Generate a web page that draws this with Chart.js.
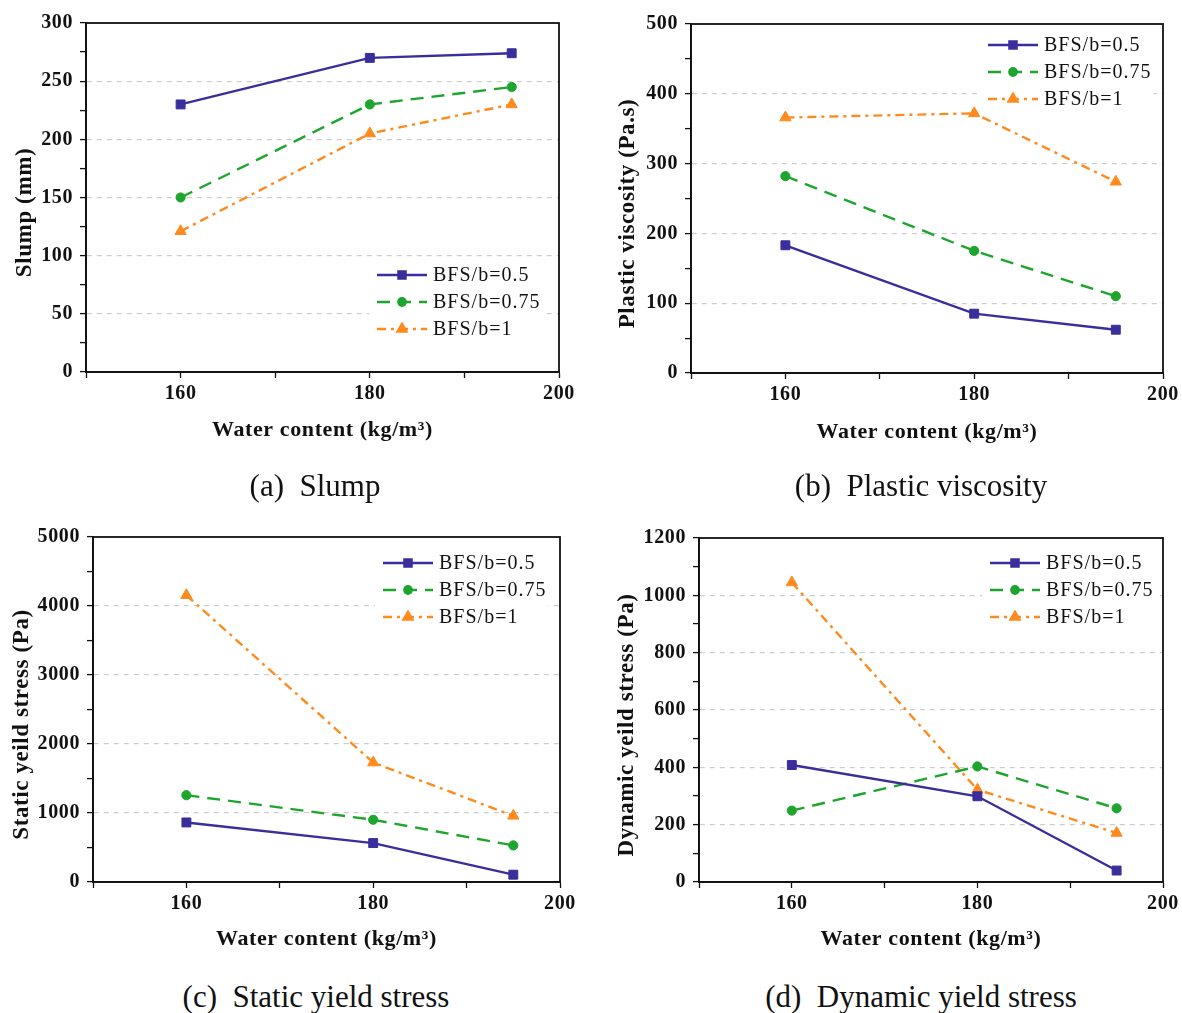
<!DOCTYPE html>
<html>
<head>
<meta charset="utf-8">
<script src="https://cdn.jsdelivr.net/npm/chart.js@4.4.1/dist/chart.umd.min.js"></script>
<style>
body { margin: 0; background: #fff; width: 1182px; height: 1013px; position: relative; overflow: hidden; }
canvas { position: absolute; }
.legenda-fig { position: absolute; font-family: 'Liberation Serif', 'Times New Roman', serif; font-size: 31px; color: #111; transform: translate(-50%, -50%); white-space: pre; }
</style>
</head>
<body>
<canvas id="grafico-slump" width="590" height="444" style="left:0;top:0"></canvas>
<canvas id="grafico-viscosidade" width="592" height="446" style="left:590px;top:0"></canvas>
<canvas id="grafico-estatica" width="590" height="453" style="left:0;top:500px"></canvas>
<canvas id="grafico-dinamica" width="592" height="453" style="left:590px;top:500px"></canvas>

<div class="legenda-fig" style="left:315px;top:486px">(a)  Slump</div>
<div class="legenda-fig" style="left:921px;top:486px">(b)  Plastic viscosity</div>
<div class="legenda-fig" style="left:316px;top:997px">(c)  Static yield stress</div>
<div class="legenda-fig" style="left:921px;top:997px">(d)  Dynamic yield stress</div>

<script>
// teor de agua (kg/m3)
const water = [160, 180, 195];
const seriesNames = ['BFS/b=0.5', 'BFS/b=0.75', 'BFS/b=1'];
const xTicks = [160, 180, 200];

const slump05 = [230, 270, 274];
const slump075 = [150, 230, 245];
const slump1 = [121, 205, 230];

const visc05 = [183, 85, 62];
const visc075 = [282, 175, 110];
const visc1 = [366, 372, 274];

const static05 = [863, 564, 106];
const static075 = [1258, 902, 530];
const static1 = [4156, 1731, 959];

const dyn05 = [408, 299, 40];
const dyn075 = [249, 403, 257];
const dyn1 = [1045, 322, 171];

const estilos = [
    { borderColor: '#3a2d9c', borderDash: [], pointStyle: 'rect', pointRadius: 6.3 },
    { borderColor: '#1ea52e', borderDash: [13, 8], pointStyle: 'circle', pointRadius: 4.6 },
    { borderColor: '#ff8a1d', borderDash: [9, 5, 3, 5], pointStyle: 'triangle', pointRadius: 6.5 },
];

const fonte = "'Liberation Serif', 'Times New Roman', serif";

// moldura completa em volta da area do grafico + espacamento do texto
const moldura = {
    id: 'moldura',
    beforeDraw(chart) {
        chart.ctx.letterSpacing = '0.6px';
    },
    beforeDatasetsDraw(chart) {
        const { ctx, chartArea: a } = chart;
        ctx.save();
        ctx.strokeStyle = '#111';
        ctx.lineWidth = 1.8;
        ctx.strokeRect(a.left, a.top, a.right - a.left, a.bottom - a.top);
        ctx.restore();
    }
}

// titulo do eixo y, um pouco abaixo do centro
const tituloY = {
    id: 'tituloY',
    afterDraw(chart, args, opts) {
        const { ctx, chartArea: a } = chart;
        ctx.save();
        ctx.font = 'bold 23px ' + fonte;
        ctx.letterSpacing = '0.6px';
        ctx.fillStyle = '#111';
        ctx.textAlign = 'center';
        ctx.textBaseline = 'middle';
        ctx.translate(opts.x, (a.top + a.bottom) / 2 + opts.shift);
        ctx.rotate(-Math.PI / 2);
        ctx.fillText(opts.text, 0, 0);
        ctx.restore();
    }
}

// legenda desenhada dentro da area do grafico, com fundo branco
const legendaInterna = {
    id: 'legendaInterna',
    afterDraw(chart, args, opts) {
        const { ctx, chartArea: a } = chart;
        const x0 = a.left + opts.dx;
        const y0 = a.top + opts.dy;
        const passo = 27;
        const sets = chart.data.datasets;
        ctx.save();
        ctx.font = '20px ' + fonte;
        ctx.letterSpacing = '1px';
        let larg = 0;
        sets.forEach(d => larg = Math.max(larg, ctx.measureText(d.label).width));
        ctx.fillStyle = '#fff';
        ctx.fillRect(x0 - 8, y0 - 14, 56 + larg + 10, passo * (sets.length - 1) + 28);
        sets.forEach((d, i) => {
            const y = y0 + i * passo;
            ctx.strokeStyle = d.borderColor;
            ctx.fillStyle = d.borderColor;
            ctx.lineWidth = d.borderWidth;
            ctx.setLineDash(d.borderDash);
            ctx.beginPath();
            ctx.moveTo(x0, y);
            ctx.lineTo(x0 + 50, y);
            ctx.stroke();
            ctx.setLineDash([]);
            Chart.helpers.drawPoint(ctx, {
                pointStyle: d.pointStyle, radius: d.pointRadius * 0.8, rotation: 0, borderWidth: 1
            }, x0 + 25, y);
            ctx.fillStyle = '#111';
            ctx.textBaseline = 'middle';
            ctx.textAlign = 'left';
            ctx.fillText(d.label, x0 + 56, y + 1);
        });
        ctx.restore();
    }
}

function criarGrafico(id, series, yMax, yStep, yTitle, geo) {
    const datasets = series.map((vals, i) => ({
        label: seriesNames[i],
        data: water.map((w, j) => ({ x: w, y: vals[j] })),
        borderColor: estilos[i].borderColor,
        backgroundColor: estilos[i].borderColor,
        borderWidth: 2.4,
        borderDash: estilos[i].borderDash,
        pointStyle: estilos[i].pointStyle,
        pointRadius: estilos[i].pointRadius,
        pointBorderWidth: 1,
        tension: 0,
        fill: false,
    }));

    new Chart(document.getElementById(id), {
        type: 'line',
        data: { datasets },
        plugins: [moldura, tituloY, legendaInterna],
        options: {
            responsive: false,
            animation: false,
            devicePixelRatio: 1,
            layout: { padding: { top: geo.top, right: geo.right, left: 0, bottom: 0 } },
            plugins: {
                legend: { display: false },
                tooltip: { enabled: false },
                tituloY: { text: yTitle, x: geo.yTitleX, shift: 15 },
                legendaInterna: { dx: geo.legX, dy: geo.legY },
            },
            scales: {
                x: {
                    type: 'linear',
                    min: 150,
                    max: 200,
                    afterFit: s => { s.height = geo.xHeight },
                    ticks: {
                        stepSize: 10,
                        autoSkip: false,
                        maxRotation: 0,
                        padding: 4,
                        color: '#111',
                        font: { family: fonte, size: 20, weight: 'bold' },
                        callback: v => xTicks.includes(v) ? v : '',
                    },
                    grid: { drawOnChartArea: false, tickColor: '#111', tickLength: 6, tickWidth: 1.3 },
                    border: { color: '#111', width: 1.8 },
                    title: {
                        display: true,
                        text: 'Water content (kg/m³)',
                        color: '#111',
                        padding: 0,
                        font: { family: fonte, size: 22, weight: 'bold' },
                    },
                },
                y: {
                    min: 0,
                    max: yMax,
                    afterFit: s => { s.width = geo.yWidth },
                    ticks: {
                        stepSize: yStep / 2,
                        autoSkip: false,
                        padding: 7,
                        color: '#111',
                        font: { family: fonte, size: 20, weight: 'bold' },
                        callback: v => v % yStep === 0 ? v : '',
                    },
                    grid: {
                        color: c => (c.tick && c.tick.value % yStep === 0 && c.tick.value > 0 && c.tick.value < yMax) ? '#cdcdcd' : 'rgba(0,0,0,0)',
                        lineWidth: 1.2,
                        tickColor: '#111',
                        tickLength: 6,
                        tickWidth: 1.3,
                    },
                    border: { color: '#111', width: 1.8, dash: [5, 5] },
                    title: { display: false },
                },
            },
        },
    });
}

criarGrafico('grafico-slump', [slump05, slump075, slump1], 300, 50, 'Slump (mm)',
    { top: 23, right: 31, yWidth: 86, xHeight: 72, yTitleX: 25, legX: 291, legY: 252 });
criarGrafico('grafico-viscosidade', [visc05, visc075, visc1], 500, 100, 'Plastic viscosity (Pa.s)',
    { top: 24, right: 16, yWidth: 101, xHeight: 73, yTitleX: 38, legX: 297, legY: 21 });
criarGrafico('grafico-estatica', [static05, static075, static1], 5000, 1000, 'Static yeild stress (Pa)',
    { top: 37, right: 30, yWidth: 93, xHeight: 71, yTitleX: 22, legX: 290, legY: 26 });
criarGrafico('grafico-dinamica', [dyn05, dyn075, dyn1], 1200, 200, 'Dynamic yeild stress (Pa)',
    { top: 38, right: 15, yWidth: 109, xHeight: 71, yTitleX: 37, legX: 291, legY: 25 });
</script>
</body>
</html>
